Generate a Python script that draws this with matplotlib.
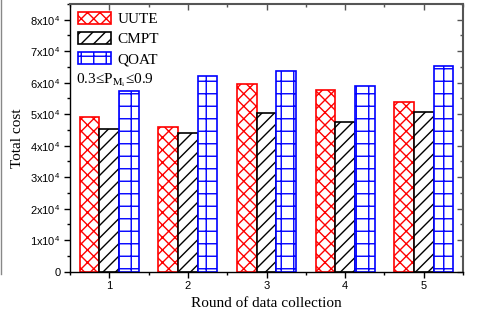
import matplotlib.pyplot as plt
import numpy as np
from matplotlib.ticker import FuncFormatter, MultipleLocator

# render at 75 dpi so the hatch cells come out at the reference spacing;
# all point sizes are scaled up by S to compensate
S = 100 / 75

plt.rcParams['mathtext.fontset'] = 'stix'
plt.rcParams['hatch.linewidth'] = 1.0 * S

rounds = [1, 2, 3, 4, 5]
uute = [49000, 46000, 59600, 57700, 53800]
cmpt = [45200, 44100, 50300, 47600, 50600]
qoat = [57500, 62000, 63700, 58900, 65400]

fig = plt.figure(figsize=(487 / 75, 321 / 75), dpi=75)
ax = fig.add_axes([70/487, 1 - 271.7/321, 393/487, 267.7/321])

x = np.array(rounds)
w = 0.25
ax.bar(x - w, uute, w, facecolor='white', edgecolor='red', hatch='xx', linewidth=1.2 * S, label='UUTE')
ax.bar(x, cmpt, w, facecolor='white', edgecolor='black', hatch='//', linewidth=1.2 * S, label='CMPT')
ax.bar(x + w, qoat, w, facecolor='white', edgecolor='blue', hatch='+', linewidth=1.2 * S, label='QOAT')

ax.set_xlim(0.5, 5.5)
ax.set_ylim(0, 85000)
ax.set_xticks(rounds)
ax.xaxis.set_minor_locator(MultipleLocator(0.5))
ax.yaxis.set_major_locator(MultipleLocator(10000))
ax.yaxis.set_minor_locator(MultipleLocator(5000))


def fmt(v, pos):
    if v == 0:
        return '0'
    return '%dx10$^{\\mathregular{4}}$' % round(v / 10000)


ax.yaxis.set_major_formatter(FuncFormatter(fmt))
for lab in ax.get_xticklabels() + ax.get_yticklabels():
    lab.set_family('Liberation Sans')
ax.tick_params(labelsize=8 * S, width=1 * S, pad=3 * S)
ax.tick_params(which='both', direction='out', top=False, right=False)
ax.tick_params(which='major', length=4 * S)
ax.tick_params(which='minor', length=2.5 * S, width=1 * S)
for side in ['left', 'bottom']:
    ax.spines[side].set_linewidth(1 * S)
for side in ['top', 'right']:
    ax.spines[side].set_color('#555555')
    ax.spines[side].set_linewidth(1.5 * S)

# inward ticks on the top and right sides
top = ax.secondary_xaxis('top')
top.set_xticks(rounds)
top.xaxis.set_minor_locator(MultipleLocator(0.5))
top.tick_params(which='both', direction='in', labeltop=False, color='#555555', width=1 * S)
top.tick_params(which='major', length=4 * S)
top.tick_params(which='minor', length=2.5 * S)
top.spines['top'].set_visible(False)
right = ax.secondary_yaxis('right')
right.yaxis.set_major_locator(MultipleLocator(10000))
right.yaxis.set_minor_locator(MultipleLocator(5000))
right.tick_params(which='both', direction='in', labelright=False, color='#555555', width=1 * S)
right.tick_params(which='major', length=4 * S)
right.tick_params(which='minor', length=2.5 * S)
right.spines['right'].set_visible(False)

ax.set_xlabel('Round of data collection', family='Liberation Serif', fontsize=11 * S, labelpad=4 * S)
ax.set_ylabel('Total cost', family='Liberation Serif', fontsize=11 * S, labelpad=4 * S)

ax.legend(loc='upper left', frameon=False, prop={'family': 'Liberation Serif', 'size': 11 * S},
          handlelength=2.2, handleheight=0.9, handletextpad=0.4, labelspacing=0.35,
          borderaxespad=0.3, borderpad=0.2)
ax.text(0.015, 0.715, '0.3≤P$_{\\mathrm{M_i}}$≤0.9', transform=ax.transAxes,
        family='Liberation Serif', fontsize=11 * S, va='center')

fig.add_artist(plt.Line2D([0.002, 0.002], [1 - 274/321, 1.0], color='#888888', linewidth=1 * S))

fig.savefig('out.png', dpi=75)
